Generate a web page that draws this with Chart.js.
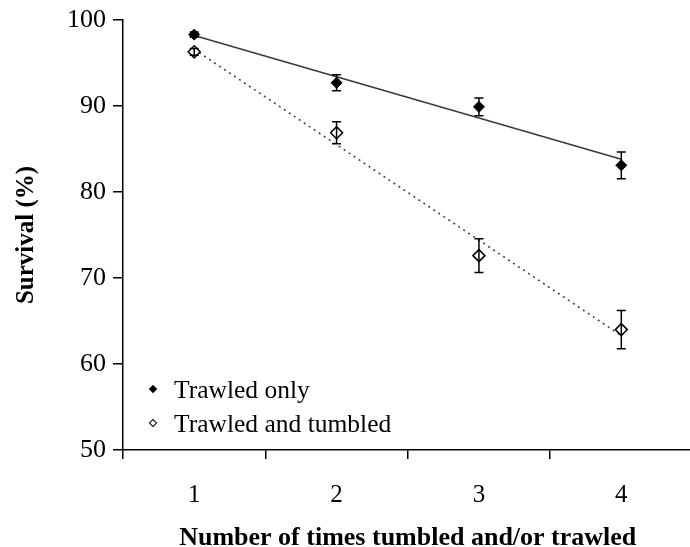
<!DOCTYPE html>
<html>
<head>
<meta charset="utf-8">
<script src="https://cdn.jsdelivr.net/npm/chart.js@4.4.1/dist/chart.umd.min.js"></script>
<style>
    html, body { margin: 0; padding: 0; background: #fff; overflow: hidden; }
    #wrap { position: relative; width: 700px; height: 547px; }
    .legend { position: absolute; left: 174px; font: 25.5px "Liberation Serif", serif; line-height: 25px; color: #000; white-space: nowrap; }
    .mark { position: absolute; left: -24px; top: 9px; width: 6px; height: 6px; transform: rotate(45deg); box-sizing: border-box; }
</style>
</head>
<body>
<div id="wrap">
    <canvas id="chart" width="700" height="547"></canvas>
    <div class="legend" style="top:377px"><span class="mark" style="background:#000"></span>Trawled only</div>
    <div class="legend" style="top:411px"><span class="mark" style="background:#fff;border:1.3px solid #000"></span>Trawled and tumbled</div>
</div>
<script>
// values
const categories = ['1', '2', '3', '4'];
const trawledOnly = [98.3, 92.7, 89.9, 83.1];
const trawledOnlyErr = [0.3, 0.93, 1.02, 1.55];
const trawledTumbled = [96.3, 86.9, 72.6, 64.0];
const trawledTumbledErr = [0.4, 1.28, 1.95, 2.23];
// trend lines, ends at 1 and 4
const trendOnly = [98.2, null, null, 83.8];
const trendTumbled = [96.6, null, null, 63.3];
const yTicks = [50, 60, 70, 80, 90, 100];

const font = 'Liberation Serif';

// error bars drawn from the y scale
const errorBars = {
    id: 'errorBars',
    afterDatasetsDraw(chart) {
        const ctx = chart.ctx;
        const y = chart.scales.y;
        chart.data.datasets.forEach((ds, i) => {
            if (!ds.errors) return;
            const meta = chart.getDatasetMeta(i);
            ctx.save();
            ctx.strokeStyle = '#000';
            ctx.lineWidth = 1.5;
            meta.data.forEach((pt, j) => {
                const v = ds.data[j];
                const e = ds.errors[j];
                const top = y.getPixelForValue(v + e);
                const bot = y.getPixelForValue(v - e);
                ctx.beginPath();
                ctx.moveTo(pt.x, top);
                ctx.lineTo(pt.x, bot);
                ctx.moveTo(pt.x - 4.5, top);
                ctx.lineTo(pt.x + 4.5, top);
                ctx.moveTo(pt.x - 4.5, bot);
                ctx.lineTo(pt.x + 4.5, bot);
                ctx.stroke();
            });
            ctx.restore();
        });
    }
};

new Chart(document.getElementById('chart'), {
    type: 'line',
    data: {
        labels: categories,
        datasets: [
            {
                label: 'Trawled only',
                data: trawledOnly,
                errors: trawledOnlyErr,
                showLine: false,
                pointStyle: 'rectRot',
                pointRadius: 5.5,
                pointBackgroundColor: '#000',
                pointBorderColor: '#000',
                pointBorderWidth: 1,
                order: 1
            },
            {
                label: 'Trawled and tumbled',
                data: trawledTumbled,
                errors: trawledTumbledErr,
                showLine: false,
                pointStyle: 'rectRot',
                pointRadius: 6,
                pointBackgroundColor: '#fff',
                pointBorderColor: '#000',
                pointBorderWidth: 1.5,
                order: 1
            },
            {
                label: 'trend1',
                data: trendOnly,
                spanGaps: true,
                borderColor: '#3a3a3a',
                borderWidth: 1.5,
                pointRadius: 0,
                order: 2
            },
            {
                label: 'trend2',
                data: trendTumbled,
                spanGaps: true,
                borderColor: '#444',
                borderWidth: 1.6,
                borderDash: [2, 4],
                pointRadius: 0,
                order: 2
            }
        ]
    },
    options: {
        responsive: false,
        animation: false,
        layout: { padding: { top: 20, right: 2, left: 0, bottom: 0 } },
        plugins: {
            legend: { display: false },
            tooltip: { enabled: false }
        },
        scales: {
            x: {
                type: 'category',
                offset: true,
                grid: { offset: true, drawOnChartArea: false, drawTicks: true, tickLength: 9, color: '#000', lineWidth: 1.5 },
                border: { color: '#000', width: 1.5 },
                ticks: { color: '#000', padding: 24, font: { family: font, size: 25, lineHeight: 1 } },
                title: { display: true, text: 'Number of times tumbled and/or trawled', color: '#000', padding: 0, font: { family: font, size: 26, weight: 'bold', lineHeight: 0.7 } },
                afterFit(scale) { scale.height = 97; }
            },
            y: {
                min: 50,
                max: 100,
                afterBuildTicks(scale) { scale.ticks = yTicks.map(v => ({ value: v })); },
                grid: { drawOnChartArea: false, drawTicks: true, tickLength: 10, color: '#000', lineWidth: 1.5 },
                border: { color: '#000', width: 1.5 },
                ticks: { color: '#000', padding: 7, font: { family: font, size: 26, lineHeight: 1 } },
                title: { display: true, text: 'Survival (%)', color: '#000', padding: { top: 14, bottom: 0 }, font: { family: font, size: 25, weight: 'bold', lineHeight: 1 } },
                afterFit(scale) { scale.width = 123; }
            }
        }
    },
    plugins: [errorBars]
});
</script>
</body>
</html>
